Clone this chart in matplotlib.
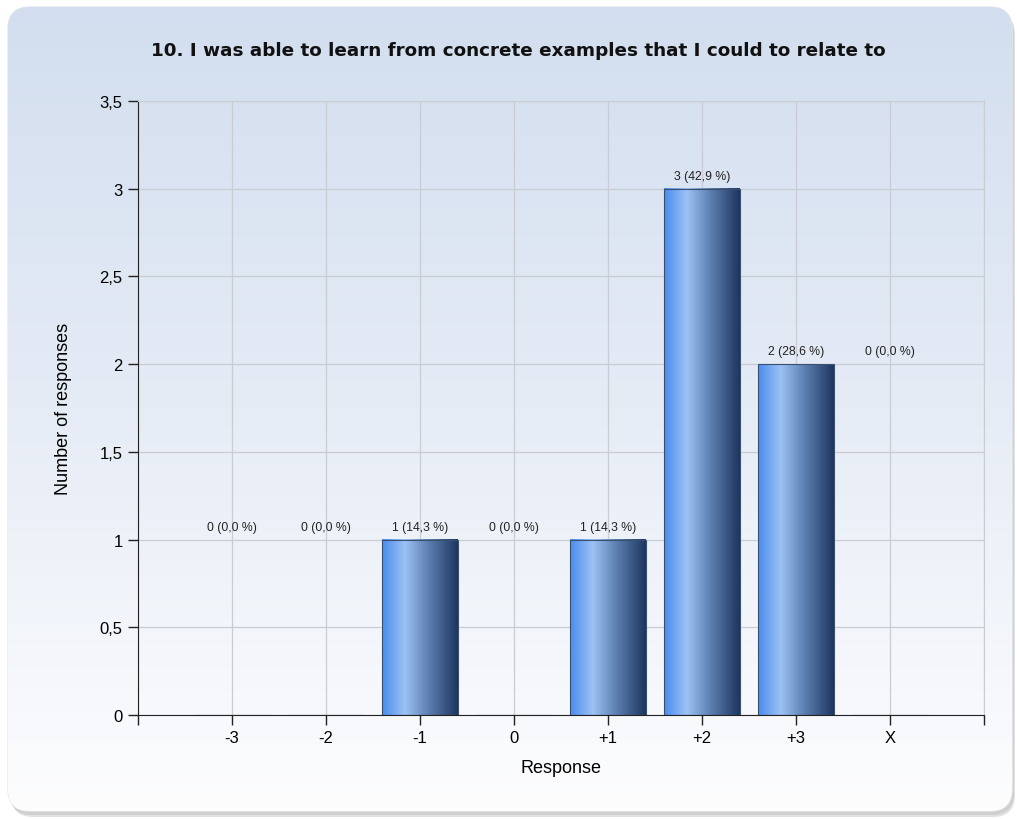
import matplotlib
matplotlib.use('Agg')
import matplotlib.pyplot as plt
import numpy as np
from matplotlib.patches import FancyBboxPatch
from matplotlib.colors import LinearSegmentedColormap


categories = ['-3', '-2', '-1', '0', '+1', '+2', '+3', 'X']
counts = [0, 0, 1, 0, 1, 3, 2, 0]
percents = ['0,0', '0,0', '14,3', '0,0', '14,3', '42,9', '28,6', '0,0']
# where the tool put each value label (zero bars take a neighbour's level)
label_levels = [1, 1, 1, 1, 1, 3, 2, 2]
yticks = [0, 0.5, 1, 1.5, 2, 2.5, 3, 3.5]
ytick_labels = ['0', '0,5', '1', '1,5', '2', '2,5', '3', '3,5']

plt.rcParams['font.family'] = ['Liberation Sans', 'DejaVu Sans']

fig = plt.figure(figsize=(10.17, 8.2), dpi=100)
fig.patch.set_facecolor('white')

# background panel with a vertical gradient and soft shadow
bg = fig.add_axes([0, 0, 1, 1], zorder=-5)
bg.set_xlim(0, 1017)
bg.set_ylim(820, 0)
bg.axis('off')
for off, col in [(6, '#e2e2e2'), (4, '#cfcfcf')]:
    bg.add_patch(FancyBboxPatch((8 + off / 2, 8 + off), 1004, 804,
                                boxstyle='round,pad=0,rounding_size=22',
                                facecolor=col, edgecolor='none'))
panel = FancyBboxPatch((8, 8), 1004, 804, boxstyle='round,pad=0,rounding_size=22',
                       facecolor='none', edgecolor='#e6e9ee', lw=1)
bg.add_patch(panel)
grad = np.linspace(0, 1, 256).reshape(-1, 1)
bg_cmap = LinearSegmentedColormap.from_list('bg', ['#d2deef', '#e6ecf6', '#fdfdfe'])
im = bg.imshow(grad, cmap=bg_cmap, extent=[8, 1012, 812, 8], aspect='auto', zorder=1)
im.set_clip_path(panel)

ax = fig.add_axes([138 / 1017, 1 - 716 / 820, (984 - 138) / 1017, (716 - 102) / 820])
ax.patch.set_alpha(0)

x = np.arange(len(categories))
bars = ax.bar(x, counts, width=0.8, facecolor='none', edgecolor='#3b506e', lw=0.8, zorder=3)

bar_cmap = LinearSegmentedColormap.from_list(
    'bar', [(0, '#4a8cee'), (0.3, '#9cc2f5'), (0.6, '#5f82b3'), (1, '#1d3660')])
hgrad = np.linspace(0, 1, 256).reshape(1, -1)
for b, n, p, lv in zip(bars, counts, percents, label_levels):
    if n > 0:
        x0 = b.get_x()
        ax.imshow(hgrad, cmap=bar_cmap, extent=[x0, x0 + b.get_width(), 0, b.get_height()],
                  aspect='auto', zorder=2)
    ax.annotate(f'{n} ({p} %)', (b.get_x() + b.get_width() / 2, lv),
                xytext=(0, 5), textcoords='offset points', ha='center', va='bottom',
                fontsize=8.8, color='#222222')

ax.set_xlim(-1, 8)
ax.set_ylim(0, 3.5)
ax.set_xticks(np.arange(-1, 9))
ax.set_xticklabels([''] + categories + [''], fontsize=12)
ax.set_yticks(yticks)
ax.set_yticklabels(ytick_labels, fontsize=12)
ax.tick_params(axis='both', direction='out', length=7, width=1, color='#222222', pad=4)

ax.grid(True, color='#c9ccd3', lw=0.9, zorder=0)
ax.set_axisbelow(True)
for s in ['top', 'right']:
    ax.spines[s].set_color('#c9ccd3')
for s in ['left', 'bottom']:
    ax.spines[s].set_color('#222222')

ax.set_xlabel('Response', fontsize=13, labelpad=10)
ax.set_ylabel('Number of responses', fontsize=13, labelpad=20)

fig.text(518 / 1017, 1 - 51 / 820, '10. I was able to learn from concrete examples that I could to relate to',
         ha='center', va='center', fontsize=13.2, fontweight='bold', family='DejaVu Sans',
         color='#111111')

fig.savefig('out.png', dpi=100)
